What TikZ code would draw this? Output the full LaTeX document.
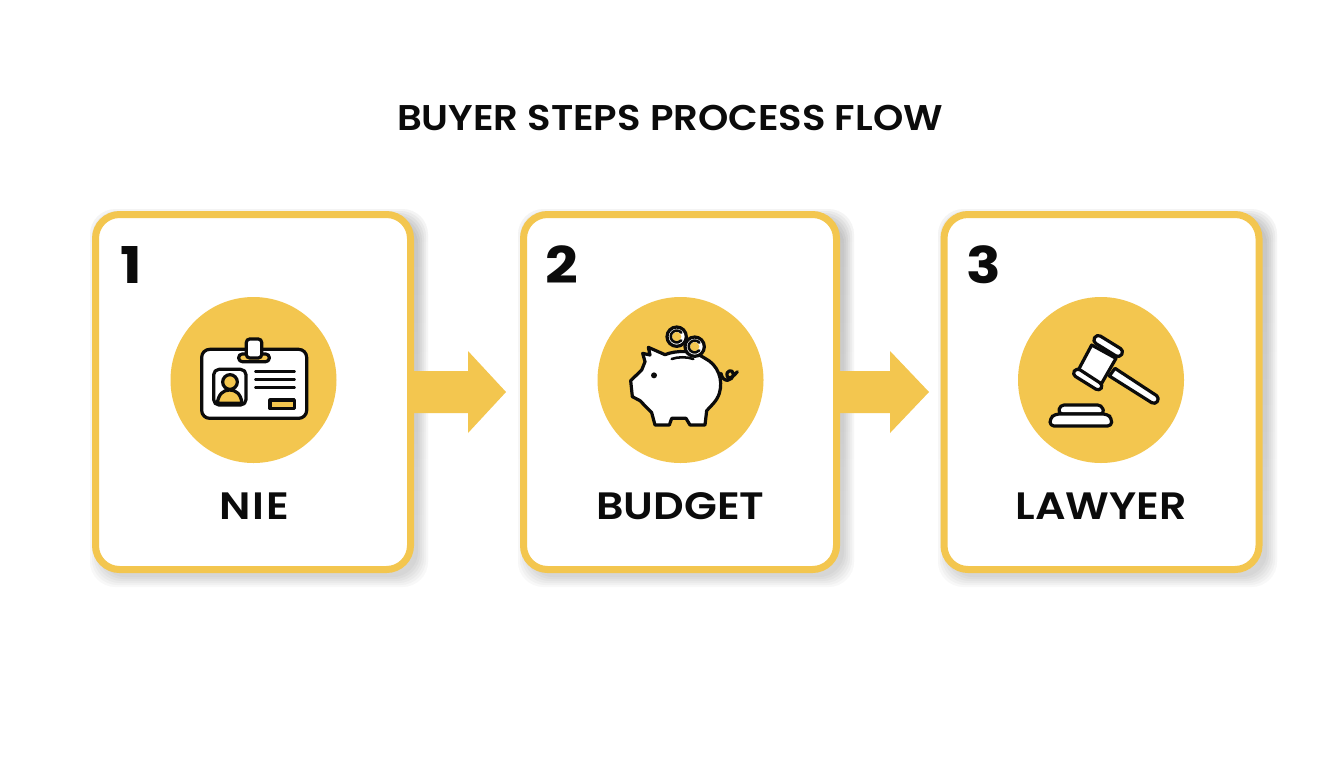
\documentclass[tikz,border=0pt]{standalone}
\usepackage{fontspec}
\setmainfont{Poppins}
\newfontfamily\wideA[FakeStretch=1.08]{Poppins SemiBold}
\newfontfamily\wideB[FakeStretch=1.12]{Poppins SemiBold}
\newfontfamily\wideC[FakeStretch=1.13]{Poppins}
\usetikzlibrary{calc}
\definecolor{gold}{HTML}{F3C64F}
\definecolor{ink}{HTML}{0B0B0B}
\definecolor{shade}{HTML}{6E7480}
\tikzset{
  x=0.75pt,y=-0.75pt,
  card/.style={draw=gold,line width=5.25pt,fill=white,rounded corners=18pt,minimum width=236.25pt,minimum height=266.25pt,inner sep=0pt},
  disc/.style={circle,fill=gold,minimum size=124.5pt,inner sep=0pt},
  numeral/.style={font=\wideC\fontsize{38}{38}\selectfont\bfseries,text=ink,inner sep=0pt},
  caption/.style={font=\wideB\fontsize{28.6}{29}\selectfont,text=ink,inner sep=0pt},
  titletext/.style={font=\wideA\fontsize{26.8}{27}\selectfont,text=ink,inner sep=0pt},
  icon/.style={draw=ink,line width=2.4pt,line join=round,line cap=round},
  thin icon/.style={draw=ink,line width=1.9pt,line cap=round},
}
\newcommand{\shadowof}[4]{%
  \foreach \g in {8,6,4,2,0,-2}{
    \fill[shade,opacity=0.028,rounded corners=19pt]
      (#1-3.5-\g+6,#2-3.5-\g+6) rectangle (#3+3.5+\g+6,#4+3.5+\g+6);
  }}
\begin{document}
\begin{tikzpicture}
\useasboundingbox (0,0) rectangle (1344,768);
\fill[white] (0,0) rectangle (1344,768);
\node[titletext] (title) at (670,118) {BUYER STEPS PROCESS FLOW};
\shadowof{95.5}{214.5}{410.5}{569.5}
\shadowof{523.5}{214.5}{836.5}{569.5}
\shadowof{943.5}{214.5}{1259.5}{569.5}
\node[card] (c1) at (253,392) {};
\node[card,minimum width=234.75pt] (c2) at (680,392) {};
\node[card] (c3) at (1101.5,392) {};
% arrows
\fill[gold] ($(c1.east)+(-4,-21)$) -- ++(58,0) -- ++(0,-20) -- ($(c1.east)+(92,0)$) -- ($(c1.east)+(54,41)$) -- ++(0,-20) -- ($(c1.east)+(-4,21)$) -- cycle;
\fill[gold] ($(c2.east)+(-4,-21)$) -- ++(54,0) -- ++(0,-20) -- ($(c2.east)+(89,0)$) -- ($(c2.east)+(50,41)$) -- ++(0,-20) -- ($(c2.east)+(-4,21)$) -- cycle;
\node[disc] (d1) at (253.5,380) {};
\node[disc] (d2) at (680.5,380) {};
\node[disc] (d3) at (1101,380) {};
\node[numeral] (n1) at (131,265) {1};
\node[numeral] (n2) at (562,265) {2};
\node[numeral] (n3) at (984,265) {3};
\node[caption] (l1) at (254,506) {\addfontfeature{LetterSpace=5}NIE};
\node[caption] (l2) at (680.5,506) {BUDGET};
\node[caption] (l3) at (1101,506) {LAWYER};
% ID badge
\begin{scope}[shift={(160,290)},scale=1/3]
  \draw[icon,fill=white,rounded corners=6pt] (125,178) rectangle (440,385);
  \draw[icon,fill=gold,rounded corners=2.7pt] (236,192) rectangle (328,215);
  \draw[icon,fill=white,rounded corners=2.5pt] (259,147) -- (305,147) -- (305,204) -- (259,204) -- cycle;
  \draw[icon,fill=white,rounded corners=4pt] (161,238) rectangle (258,345);
  \draw[icon,fill=gold] (172,340) .. controls (175,312) and (190,300) .. (209,300) .. controls (228,300) and (243,312) .. (246,340) -- cycle;
  \draw[icon,fill=gold] (210,276) circle (22);
  \draw[thin icon] (286,245) -- (404,245);
  \draw[thin icon] (286,268) -- (404,268);
  \draw[thin icon] (286,292) -- (404,292);
  \draw[icon,fill=gold] (330,330) rectangle (403,356);
\end{scope}
% piggy bank
\begin{scope}[shift={(590,290)},scale=1/3]
  \draw[icon] (393,250) .. controls (398,280) and (428,275) .. (430,252) .. controls (430,236) and (405,240) .. (412,260) .. controls (418,270) and (432,258) .. (442,245);
  \draw[icon,fill=white] (175,172) -- (225,194) .. controls (260,180) and (310,180) .. (345,205) .. controls (385,225) and (400,270) .. (388,310) .. controls (380,335) and (360,350) .. (350,362) -- (345,405) -- (300,405) -- (288,385) -- (245,385) -- (238,405) -- (195,405) -- (185,368) -- (150,332) -- (127,320) -- (122,272) -- (155,240) -- (165,215) -- (158,190) -- (180,195) -- cycle;
  \draw[thin icon] (245,207) .. controls (265,200) and (290,200) .. (310,207);
  \fill[ink] (192,256) circle (9);
  \draw[icon,fill=white] (260,140) circle (29);
  \fill[gold] (260,140) circle (14);
  \draw[thin icon] (274,128) arc (-40:-320:18);
  \draw[icon,fill=white] (314,170) circle (29);
  \fill[gold] (314,170) circle (14);
  \draw[thin icon] (328,158) arc (-40:-320:18);
\end{scope}
% gavel
\begin{scope}[shift={(1010,290)},scale=1/3]
  \draw[icon,fill=white] (315,235) -- (298,258) -- (425,338) .. controls (438,346) and (452,328) .. (440,317) -- cycle;
  \draw[icon,fill=white] (245,165) -- (318,205) -- (272,285) -- (205,240) -- cycle;
  \draw[icon,fill=white,rounded corners=3pt] (261,132) -- (342,182) -- (328,204) -- (247,154) -- cycle;
  \draw[icon,fill=white,rounded corners=3pt] (200,233) -- (280,285) -- (268,304) -- (186,253) -- cycle;
  \draw[icon,fill=white,rounded corners=3pt] (145,372) -- (150,345) -- (275,345) -- (283,372) -- cycle;
  \draw[icon,fill=white,rounded corners=3pt] (120,408) -- (120,385) -- (135,372) -- (292,372) -- (305,385) -- (305,408) -- cycle;
\end{scope}
\end{tikzpicture}
\end{document}
